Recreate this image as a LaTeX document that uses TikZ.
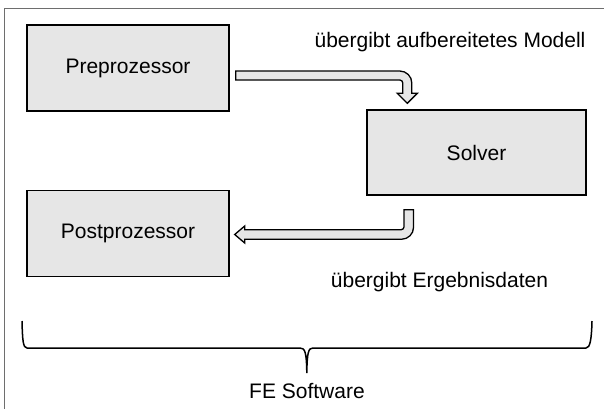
\documentclass[tikz,border=0pt]{standalone}
\usepackage{fontspec}
\setmainfont{Liberation Sans}
\usetikzlibrary{calc}
\definecolor{boxgray}{HTML}{E6E6E6}
\definecolor{framegray}{HTML}{6E6E6E}

\tikzset{
    modul/.style={draw=black, line width=1.4pt, fill=boxgray, inner sep=0pt,
        minimum width=202pt, minimum height=86pt, font=\fontsize{21}{25}\selectfont},
    pfeil/.style={draw=black, line width=1.3pt, fill=boxgray, line join=miter},
    beschriftung/.style={anchor=base, font=\fontsize{21}{25}\selectfont}
}

\begin{document}
\begin{tikzpicture}[x=1pt, y=-1pt]
    \clip (0,0) rectangle (604,408);
    % Rahmen
    \draw[framegray, line width=1.2pt] (4.5,8.5) rectangle (640,440);

    % Module
    \node[modul] (pre) at (128,68) {Preprozessor};
    \node[modul, minimum width=219pt, minimum height=85pt] (solver) at (476.5,152.5) {Solver};
    \node[modul] (post) at (128,233.5) {Postprozessor};

    % Beschriftungen
    \node[beschriftung] (lblModell) at (450,47) {übergibt aufbereitetes Modell};
    \node[beschriftung] (lblErgebnis) at (439.5,287) {übergibt Ergebnisdaten};
    \node[beschriftung] (lblFE) at (307,398) {FE Software};

    % Pfeil Preprozessor -> Solver
    \coordinate (m1) at ($(pre.east)+(6,7.5)$);
    \coordinate (m2) at ($(solver.north west)+(41,-6)$);
    \draw[pfeil] ($(m1)+(0,-4.5)$)
        -- ($(m2|-m1)+(-7.5,-4.5)$) arc[start angle=-90, end angle=0, radius=12]
        -- ($(m2)+(4.5,-10)$)
        -- ($(m2)+(10,-10)$)
        -- (m2)
        -- ($(m2)+(-10,-10)$)
        -- ($(m2)+(-4.5,-10)$)
        -- ($(m2|-m1)+(-4.5,7.5)$) arc[start angle=0, end angle=-90, radius=3]
        -- ($(m1)+(0,4.5)$)
        -- cycle;

    % Pfeil Solver -> Postprozessor
    \coordinate (m3) at ($(solver.south west)+(42.5,14)$);
    \coordinate (m4) at ($(post.east)+(5,1)$);
    \draw[pfeil] ($(m3)+(-4.75,0)$)
        -- ($(m3|-m4)+(-4.75,-7.75)$) arc[start angle=0, end angle=90, radius=3]
        -- ($(m4)+(10,-4.75)$)
        -- ($(m4)+(10,-8.5)$)
        -- (m4)
        -- ($(m4)+(10,8.5)$)
        -- ($(m4)+(10,4.75)$)
        -- ($(m3|-m4)+(-7.25,4.75)$) arc[start angle=90, end angle=0, radius=12]
        -- ($(m3)+(4.75,0)$)
        -- cycle;

    % Klammer
    \draw[line width=1.5pt] (22,321) .. controls (22.5,340) and (23,348) .. (27,348)
        -- (300,348) .. controls (305,348) and (306.5,352) .. (306.8,373)
        .. controls (307.1,352) and (308.5,348) .. (313,348)
        -- (586,348) .. controls (590,348) and (591.5,340) .. (592,321);
\end{tikzpicture}
\end{document}
